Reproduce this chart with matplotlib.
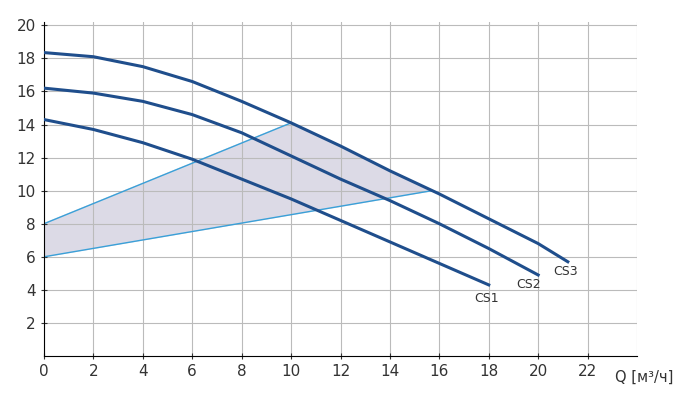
import matplotlib
matplotlib.use("Agg")
import matplotlib.pyplot as plt

q3 = [0, 2, 4, 6, 8, 10, 12, 14, 16, 18, 20, 21.2]
h3 = [18.35, 18.1, 17.5, 16.6, 15.4, 14.1, 12.7, 11.2, 9.8, 8.3, 6.8, 5.7]
q2 = [0, 2, 4, 6, 8, 10, 12, 14, 16, 18, 20]
h2 = [16.2, 15.9, 15.4, 14.6, 13.5, 12.1, 10.7, 9.4, 8.0, 6.5, 4.9]
q1 = [0, 2, 4, 6, 8, 10, 12, 14, 16, 18]
h1 = [14.3, 13.7, 12.9, 11.9, 10.7, 9.5, 8.2, 6.9, 5.6, 4.3]
area_q = [0, 0, 10, 12, 14, 15.7]
area_h = [6, 8, 14.1, 12.7, 11.2, 10]

fig = plt.figure(figsize=(6.95, 4.05), dpi=100)
ax = fig.add_axes([44/695, 1-356/405, (637-44)/695, (356-22)/405])
ax.fill(area_q, area_h, color="#dcdae6", zorder=1)
ax.plot([0, 10], [8, 14.1], color="#3aa0d8", lw=1, zorder=2)
ax.plot([0, 15.7], [6, 10], color="#3aa0d8", lw=1, zorder=2)
col = "#1f4e8c"
for q, h, lab, off in [(q1, h1, "CS1", (-0.1, -0.8)), (q2, h2, "CS2", (-0.4, -0.6)), (q3, h3, "CS3", (-0.1, -0.6))]:
    ax.plot(q, h, color=col, lw=2.2, zorder=3, solid_joinstyle="round")
    ax.text(q[-1] + off[0], h[-1] + off[1], lab, fontsize=9, color="#333333", ha="center", va="center")
ax.set_xlim(0, 24)
ax.set_ylim(0, 20.2)
ax.set_xticks(range(0, 23, 2))
ax.set_yticks(range(2, 21, 2))
ax.axvline(24, color="#bbbbbb", lw=0.8)
ax.grid(True, color="#bbbbbb", lw=0.8)
for s in ["top", "right"]:
    ax.spines[s].set_visible(False)
ax.tick_params(labelsize=11, colors="#333333", length=5, direction="inout")
fig.text(615/695, 1-377/405, "Q [м³/ч]", fontsize=10.5, color="#333333", va="center")
fig.savefig("out.png", dpi=100)
